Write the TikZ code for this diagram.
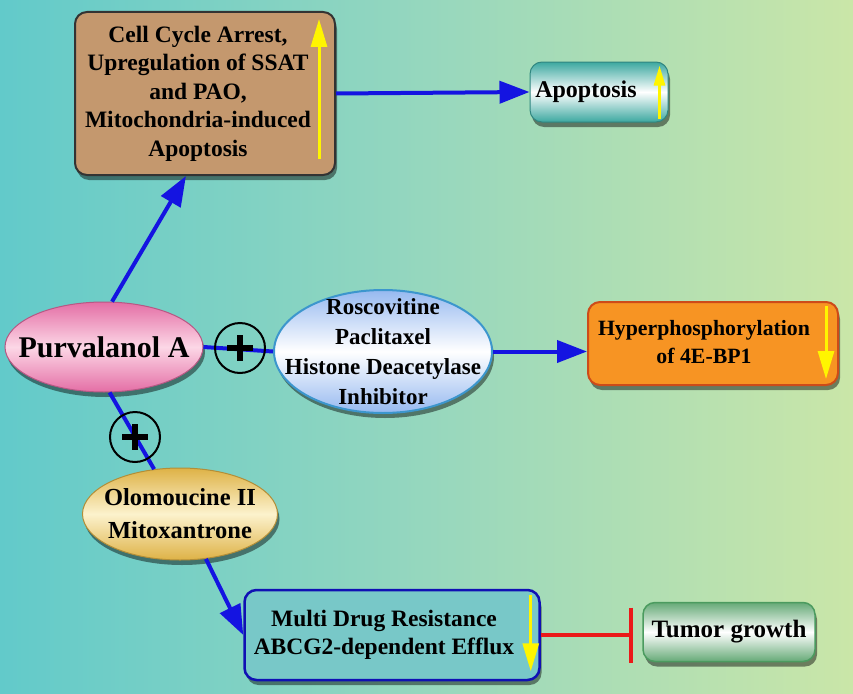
\documentclass[tikz,border=0pt]{standalone}
\usepackage{fontspec}
\setmainfont{Liberation Serif}
\usetikzlibrary{arrows.meta,shadows,shapes.geometric,calc}
\definecolor{bgL}{RGB}{98,202,202}
\definecolor{bgM}{RGB}{150,215,190}
\definecolor{bgR}{RGB}{202,230,168}
\definecolor{arrblue}{RGB}{20,20,225}
\definecolor{brownfill}{RGB}{196,152,110}
\definecolor{tealbox}{RGB}{60,168,160}
\definecolor{pinkdark}{RGB}{228,110,165}
\definecolor{pinklight}{RGB}{252,215,230}
\definecolor{bluelight}{RGB}{150,185,240}
\definecolor{blueedge}{RGB}{60,150,205}
\definecolor{golddark}{RGB}{222,178,70}
\definecolor{goldlight}{RGB}{252,242,205}
\definecolor{orangefill}{RGB}{247,148,35}
\definecolor{orangeedge}{RGB}{205,75,25}
\definecolor{mdrfill}{RGB}{120,200,200}
\definecolor{greenedge}{RGB}{75,155,95}
\definecolor{yarr}{RGB}{255,245,0}
\definecolor{redline}{RGB}{235,25,25}
\tikzset{
  boxshadow/.style={drop shadow={shadow xshift=2pt,shadow yshift=-5pt,fill=black,opacity=0.45}},
  txt/.style={font=\bfseries\fontsize{23.5}{28.5}\selectfont, align=center, text=black},
  bluearrow/.style={draw=arrblue, line width=4pt, -{Triangle[length=30pt,width=22pt]}},
  blueline/.style={draw=arrblue, line width=4pt},
  yarrow/.style={draw=yarr, line width=3pt, -{Triangle[length=28pt,width=16pt]}},
  plusc/.style={circle, draw=black, line width=2pt, minimum size=50pt, inner sep=0pt},
  plusbar/.style={line width=5.5pt, black},
  ell/.style={ellipse, inner sep=0pt, boxshadow},
}
\begin{document}
\begin{tikzpicture}[x=1pt,y=-1pt]
\useasboundingbox (0,0) rectangle (853,693);
\shade[left color=bgL, right color=bgR, middle color=bgM] (0,0) rectangle (853,693);

% nodes
\node[boxshadow, draw=black!80, line width=2pt, fill=brownfill, rounded corners=12pt,
      minimum width=260pt, minimum height=163pt, txt] (brown) at (205,93.5)
  {\begin{tabular}{@{}c@{}}Cell Cycle Arrest,\\ Upregulation of SSAT\\ and PAO,\\ Mitochondria-induced\\ Apoptosis\end{tabular}\hspace{14pt}};

\node[boxshadow, draw=tealbox!80!black, line width=1pt, top color=tealbox, bottom color=tealbox, middle color=white,
      rounded corners=12pt, minimum width=138pt, minimum height=60pt, txt, font=\bfseries\fontsize{24}{28}\selectfont] (apop) at (599,92)
  {Apoptosis\hspace{26pt}};

\node[ell, draw=pinkdark!80!black, line width=1pt, top color=pinkdark, bottom color=pinkdark, middle color=pinklight,
      minimum width=198pt, minimum height=90pt,
      label={[txt, font=\bfseries\fontsize{30}{34}\selectfont]center:Purvalanol A}] (purv) at (104,347) {};

\node[ell, draw=blueedge, line width=2pt, top color=bluelight, bottom color=bluelight, middle color=white,
      minimum width=218pt, minimum height=123pt,
      label={[txt, font=\bfseries\fontsize{23}{30}\selectfont]center:Roscovitine\\ Paclitaxel\\ Histone Deacetylase\\ Inhibitor}] (rosc) at (383,351.5) {};

\node[boxshadow, draw=orangeedge, line width=2pt, fill=orangefill, rounded corners=12pt,
      minimum width=250pt, minimum height=83pt, txt, font=\bfseries\fontsize{21.8}{28}\selectfont] (hyper) at (713,343.5)
  {\begin{tabular}{@{}c@{}}Hyperphosphorylation\\ of 4E-BP1\end{tabular}\hspace{18pt}};

\node[ell, draw=golddark!80!black, line width=1pt, top color=golddark, bottom color=golddark, middle color=goldlight,
      minimum width=195pt, minimum height=92pt,
      label={[txt, font=\bfseries\fontsize{24.5}{33}\selectfont]center:Olomoucine II\\ Mitoxantrone}] (olom) at (180,514) {};

\node[boxshadow, draw=arrblue!80!black, line width=2.5pt, fill=mdrfill, rounded corners=12pt,
      minimum width=295pt, minimum height=90pt, txt] (mdr) at (392,635)
  {\begin{tabular}{@{}c@{}}Multi Drug Resistance\\ ABCG2-dependent Efflux\end{tabular}\hspace{16pt}};

\node[boxshadow, draw=greenedge, line width=1.5pt, top color=greenedge!85, bottom color=greenedge!85, middle color=white,
      rounded corners=12pt, minimum width=172pt, minimum height=59pt, txt, font=\bfseries\fontsize{25}{28}\selectfont] (tumor) at (729,632)
  {Tumor growth};

% yellow indicators
\draw[yarrow] ($(brown.south east)+(-17,-17)$) -- ($(brown.north east)+(-17,8)$);
\draw[yarrow, -{Triangle[length=20pt,width=11pt]}] ($(apop.south east)+(-9,-4)$) -- ($(apop.north east)+(-9,4)$);
\draw[yarrow] ($(hyper.north east)+(-13,5)$) -- ($(hyper.south east)+(-13,-7)$);
\draw[yarrow] ($(mdr.north east)+(-10,6)$) -- ($(mdr.south east)+(-10,-10)$);

% connectors
\draw[bluearrow] (purv.80) -- (brown.257);
\draw[bluearrow] (brown.east) -- (apop.west);
\draw[blueline] (purv.east) -- (rosc.west);
\draw[bluearrow] (rosc.east) -- (rosc.east -| hyper.west);
\draw[blueline] (purv.-83) -- (olom.120);
\draw[bluearrow] (olom.-60) -- (mdr.west);
\draw[draw=redline, line width=4pt, -{Bar[width=55pt,line width=4pt]}, shorten >=9pt] (mdr.east) -- (mdr.east -| tumor.west);

% plus circles
\node[plusc] (p1) at (240,348) {};
\draw[plusbar] ($(p1.center)+(-13,0)$) -- ($(p1.center)+(13,0)$);
\draw[plusbar] ($(p1.center)+(0,-13)$) -- ($(p1.center)+(0,13)$);
\node[plusc] (p2) at (135,437) {};
\draw[plusbar] ($(p2.center)+(-13,0)$) -- ($(p2.center)+(13,0)$);
\draw[plusbar] ($(p2.center)+(0,-13)$) -- ($(p2.center)+(0,13)$);
\end{tikzpicture}
\end{document}
